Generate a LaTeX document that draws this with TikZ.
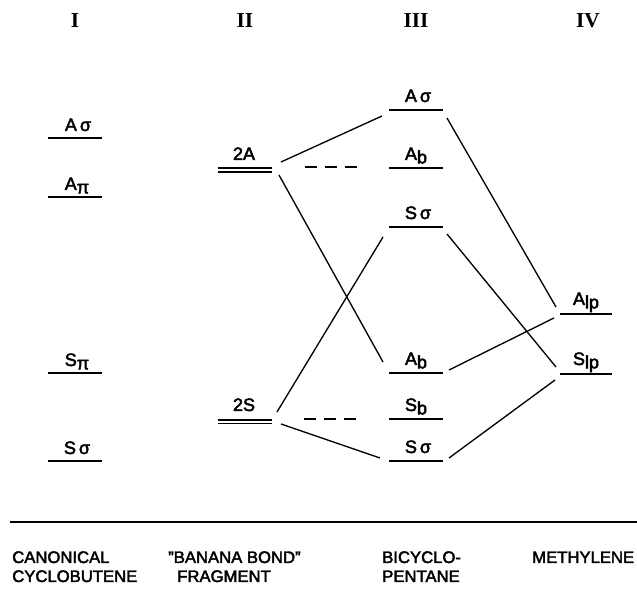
\documentclass[tikz,border=0pt]{standalone}
\usepackage{fontspec}
\setmainfont[FakeBold=2.5]{Liberation Sans}
\newfontfamily\numfont{Liberation Serif}
\newcommand\lo[1]{\raisebox{-2.5pt}{#1}}
\begin{document}
\begin{tikzpicture}[x=0.75pt,y=-0.75pt,
  lvl/.style={line width=1.6pt},
  dbl/.style={line width=1.1pt},
  conn/.style={line width=1pt},
  dsh/.style={line width=1pt,dash pattern=on 9pt off 6pt},
  lab/.style={anchor=base,inner sep=0pt,font=\fontsize{13.5}{15}\selectfont},
  hdr/.style={inner sep=0pt,font=\numfont\bfseries\fontsize{16}{17}\selectfont},
  foot/.style={anchor=base west,inner sep=0pt,font=\fontsize{12.5}{15}\selectfont}]
\useasboundingbox[fill=white] (0,0) rectangle (637,606);
% headers
\node[hdr] (h1) at (75,21) {I};
\node[hdr] (h2) at (245,21) {II};
\node[hdr] (h3) at (416,21) {III};
\node[hdr] (h4) at (588,21) {IV};
% column I
\draw[lvl] (48,138) coordinate (iAs-l) -- (102,138) coordinate (iAs-r);
\node[lab] (iAs) at (78,131) {A\,σ};
\draw[lvl] (48,197) coordinate (iAp-l) -- (102,197) coordinate (iAp-r);
\node[lab] (iAp) at (77,190) {A\lo{π}};
\draw[lvl] (48,373) coordinate (iSp-l) -- (102,373) coordinate (iSp-r);
\node[lab] (iSp) at (77,366) {S\lo{π}};
\draw[lvl] (48,461) coordinate (iSs-l) -- (102,461) coordinate (iSs-r);
\node[lab] (iSs) at (77,454) {S\,σ};
% column II
\draw[dbl] (218,168) -- (272,168);
\draw[dbl] (218,172) -- (272,172);
\node[lab] (iiA) at (244,160) {2A};
\draw[dbl] (218,420) -- (272,420);
\draw[dbl] (218,423.5) -- (272,423.5);
\node[lab] (iiS) at (244,411) {2S};
% column III
\draw[lvl] (389,110) -- (443,110);
\node[lab] (iiiAs) at (418,102) {A\,σ};
\draw[lvl] (389,168) -- (443,168);
\node[lab] (iiiAb) at (416,160) {A\lo{b}};
\draw[lvl] (389,227) -- (443,227);
\node[lab] (iiiSs) at (418,219) {S\,σ};
\draw[lvl] (389,373) -- (443,373);
\node[lab] (iiiAb2) at (416,365) {A\lo{b}};
\draw[lvl] (389,419) -- (443,419);
\node[lab] (iiiSb) at (416,411) {S\lo{b}};
\draw[lvl] (389,461) -- (443,461);
\node[lab] (iiiSs2) at (418,453) {S\,σ};
% column IV
\draw[lvl] (560,314) -- (612,314);
\node[lab] (ivA) at (586,305) {A\lo{lp}};
\draw[lvl] (560,374) -- (612,374);
\node[lab] (ivS) at (586,365) {S\lo{lp}};
% connector end points
\coordinate (a1) at (281,162); \coordinate (b1) at (382,116);
\coordinate (a2) at (279,175); \coordinate (b2) at (383,362);
\coordinate (a3) at (277,412); \coordinate (b3) at (383,237);
\coordinate (a4) at (281,424); \coordinate (b4) at (380,458);
\coordinate (a5) at (447,118); \coordinate (b5) at (556,307);
\coordinate (a6) at (447,234); \coordinate (b6) at (556,367);
\coordinate (a7) at (449,370); \coordinate (b7) at (554,318);
\coordinate (a8) at (449,458); \coordinate (b8) at (555,380);
\coordinate (d1) at (305,167); \coordinate (e1) at (358,167);
\coordinate (d2) at (304,419); \coordinate (e2) at (358,419);
\draw[conn] (a1) -- (b1);
\draw[conn] (a2) -- (b2);
\draw[conn] (a3) -- (b3);
\draw[conn] (a4) -- (b4);
\draw[conn] (a5) -- (b5);
\draw[conn] (a6) -- (b6);
\draw[conn] (a7) -- (b7);
\draw[conn] (a8) -- (b8);
\draw[dsh] (d1) -- (e1);
\draw[dsh] (d2) -- (e2);
% baseline rule
\coordinate (r1) at (10,522); \coordinate (r2) at (637,522);
\draw[line width=1.3pt] (r1) -- (r2);
% footers
\node[foot] (f1a) at (12,563) {CANONICAL};
\node[foot] (f1b) at (12,582) {CYCLOBUTENE};
\node[foot] (f2a) at (168,563) {"BANANA BOND"};
\node[foot] (f2b) at (177,582) {FRAGMENT};
\node[foot] (f3a) at (382,563) {BICYCLO-};
\node[foot] (f3b) at (382,582) {PENTANE};
\node[foot] (f4) at (532,563) {METHYLENE};
\end{tikzpicture}
\end{document}
